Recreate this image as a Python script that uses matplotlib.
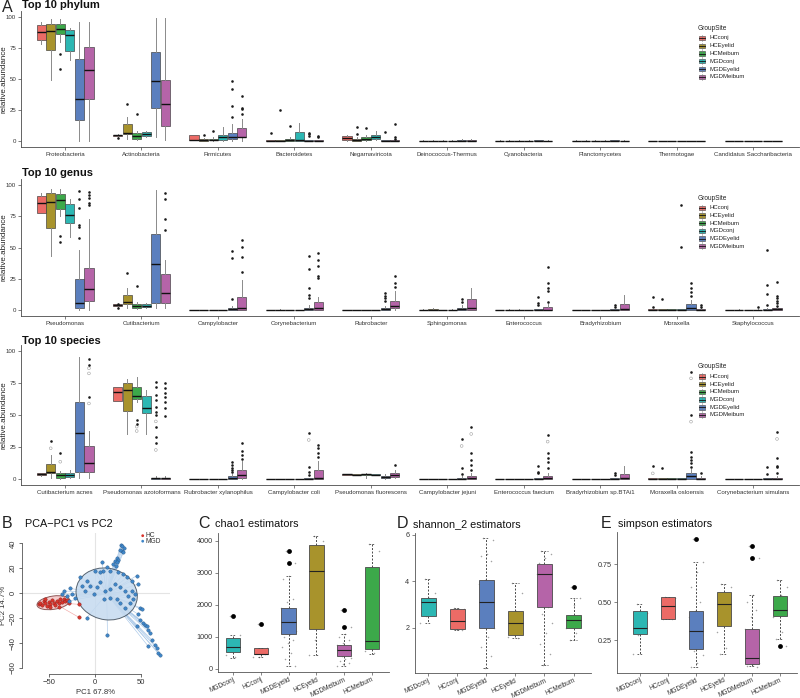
import numpy as np
import matplotlib
matplotlib.use('Agg')
import matplotlib.pyplot as plt
from matplotlib.patches import Ellipse, Rectangle

plt.rcParams['font.family'] = ['Liberation Sans', 'DejaVu Sans']

# ---------------- data ----------------
GROUPS = ['HCconj', 'HCEyelid', 'HCMeibum', 'MGDconj', 'MGDEyelid', 'MGDMeibum']
COLORS = ['#EC6B66', '#A8932C', '#3CA94A', '#2CB7B3', '#5B7FBE', '#B564A8']

PHYLUM = ['Proteobacteria', 'Actinobacteria', 'Firmicutes', 'Bacteroidetes', 'Negarnaviricota',
          'Deinococcus-Thermus', 'Cyanobacteria', 'Planctomycetes', 'Thermotogae',
          'Candidatus Saccharibacteria']
PHY_Q1 = [[81.5, 73.4, 86.0, 72.8, 17.0, 33.6], [4.0, 5.4, 1.3, 4.0, 26.3, 12.0],
          [0.8, 0.0, 0.5, 0.8, 1.9, 3.0], [0, 0, 0, 0, 0, 0], [0.5, 0, 0.5, 1.5, 0, 0],
          [0, 0, 0, 0, 0, 0], [0, 0, 0, 0, 0, 0], [0, 0, 0, 0, 0, 0], [0, 0, 0, 0, 0, 0],
          [0, 0, 0, 0, 0, 0]]
PHY_MED = [[87.6, 88.7, 90.3, 85.5, 33.6, 57.0], [4.5, 6.7, 4.0, 5.4, 48.4, 29.6],
           [0.8, 0.5, 1.0, 3.5, 3.5, 3.5], [0.2, 0.2, 0.5, 0.5, 0.2, 0.2], [2.5, 0.5, 1.5, 3.5, 0.2, 0.2],
           [0.1, 0.1, 0.1, 0.1, 0.3, 0.3], [0.1, 0.1, 0.1, 0.1, 0.2, 0.1], [0.1, 0.1, 0.1, 0.1, 0.1, 0.1],
           [0, 0, 0, 0, 0, 0], [0, 0, 0, 0, 0, 0]]
PHY_Q3 = [[93.5, 94.4, 94.4, 89.5, 66.0, 75.5], [5.0, 13.4, 6.7, 7.0, 72.0, 49.0],
          [4.8, 1.5, 2.0, 4.5, 6.2, 10.2], [0.5, 0.5, 2.0, 7.0, 0.6, 0.6], [4.0, 1.5, 3.0, 5.0, 0.5, 0.5],
          [0.3, 0.3, 0.3, 0.3, 0.8, 0.9], [0.3, 0.3, 0.3, 0.3, 0.6, 0.3], [0.3, 0.3, 0.3, 0.3, 0.5, 0.3],
          [0.2, 0.2, 0.2, 0.2, 0.2, 0.2], [0.2, 0.2, 0.2, 0.2, 0.2, 0.2]]
PHY_LO = [[78.0, 49.0, 80.0, 65.3, 0.0, 0.0], [3.5, 2.0, 0.5, 3.0, 3.0, 1.0],
          [0.5, 0, 0, 0, 0, 0], [0, 0, 0, 0, 0, 0], [0, 0, 0, 0.5, 0, 0],
          [0, 0, 0, 0, 0, 0], [0, 0, 0, 0, 0, 0], [0, 0, 0, 0, 0, 0], [0, 0, 0, 0, 0, 0],
          [0, 0, 0, 0, 0, 0]]
PHY_HI = [[96.0, 98.4, 98.4, 91.4, 96.0, 96.0], [5.5, 19.0, 8.3, 8.0, 99.0, 99.0],
          [4.8, 2.5, 3.0, 11.6, 14.0, 18.0], [1.0, 1.0, 3.5, 14.8, 1.2, 1.2], [5.0, 3.0, 5.0, 8.0, 1.0, 1.0],
          [0.5, 0.5, 0.5, 0.6, 1.8, 1.8], [0.5, 0.5, 0.5, 0.5, 1.2, 0.5], [0.5, 0.5, 0.5, 0.5, 1.0, 0.5],
          [0.4, 0.4, 0.4, 0.4, 0.4, 0.4], [0.4, 0.4, 0.4, 0.4, 0.4, 0.4]]
# outliers: (category index, group index, value)
PHY_OUT = [(0, 2, 70), (0, 2, 58), (1, 0, 2.5), (1, 1, 30), (1, 2, 22),
           (2, 1, 4.8), (2, 2, 8), (2, 4, 48.4), (2, 4, 42), (2, 4, 28), (2, 4, 19.6),
           (2, 5, 36), (2, 5, 27), (2, 5, 26), (2, 5, 22),
           (3, 0, 6.7), (3, 1, 25), (3, 2, 12), (3, 4, 6.7), (3, 4, 5.4), (3, 4, 4.3), (3, 5, 4), (3, 5, 3),
           (4, 1, 11.6), (4, 1, 5.6), (4, 2, 10.8), (4, 4, 7.5), (4, 5, 14), (4, 5, 3.5), (4, 5, 2)]
PHY_OUT_GREY = []

GENUS = ['Pseudomonas', 'Cutibacterium', 'Campylobacter', 'Corynebacterium', 'Rubrobacter',
         'Sphingomonas', 'Enterococcus', 'Bradyrhizobium', 'Moraxella', 'Staphylococcus']
GEN_Q1 = [[77.3, 66.0, 80.5, 70.0, 1.9, 7.5], [3.0, 4.5, 1.3, 2.7, 5.3, 5.9],
          [0, 0, 0, 0, 0, 0], [0, 0, 0, 0, 0, 0], [0, 0, 0, 0, 0, 1.3],
          [0, 0, 0, 0, 0, 0], [0, 0, 0, 0, 0, 0], [0, 0, 0, 0, 0, 0], [0, 0, 0, 0, 0, 0],
          [0, 0, 0, 0, 0, 0]]
GEN_MED = [[85.9, 86.4, 88.0, 76.0, 5.3, 16.5], [3.8, 6.4, 3.2, 3.5, 36.5, 13.3],
           [0, 0, 0, 0, 0.5, 1.3], [0, 0, 0, 0, 0.5, 1.3], [0, 0, 0, 0, 0.5, 3.2],
           [0, 0, 0, 0, 0.5, 1.3], [0, 0, 0, 0, 0, 0.3], [0, 0, 0, 0, 0.2, 0.5],
           [0.2, 0.2, 0.2, 0.2, 1.9, 0.3], [0, 0, 0, 0, 0.3, 0.5]]
GEN_Q3 = [[91.2, 93.3, 92.8, 84.8, 25.0, 33.3], [4.5, 12.0, 4.5, 4.5, 60.8, 28.5],
          [0.2, 0.2, 0.2, 0.2, 1.5, 10.7], [0.2, 0.3, 0.2, 0.2, 1.5, 6.7], [0.2, 0.2, 0.2, 0.2, 1.5, 7.5],
          [0.3, 0.5, 0.2, 0.3, 2.0, 8.5], [0.2, 0.3, 0.3, 0.2, 0.5, 2.7], [0.2, 0.2, 0.2, 0.2, 0.5, 4.5],
          [0.5, 0.5, 0.5, 0.5, 4.5, 1.0], [0.2, 0.3, 0.2, 0.3, 1.0, 1.5]]
GEN_LO = [[77.3, 43.2, 75.5, 58.7, 0, 0], [2.0, 1.3, 0.5, 2.0, 1.3, 2.0],
          [0, 0, 0, 0, 0, 0], [0, 0, 0, 0, 0, 0], [0, 0, 0, 0, 0, 0],
          [0, 0, 0, 0, 0, 0], [0, 0, 0, 0, 0, 0], [0, 0, 0, 0, 0, 0], [0, 0, 0, 0, 0, 0],
          [0, 0, 0, 0, 0, 0]]
GEN_HI = [[94.0, 97.0, 97.0, 89.0, 48.0, 72.5], [5.0, 18.0, 6.7, 5.5, 96.0, 40.0],
          [0.3, 0.3, 0.3, 0.3, 3.0, 24.0], [0.3, 1.0, 0.3, 0.3, 4.0, 10.7], [0.3, 0.3, 0.3, 0.3, 3.5, 15.0],
          [0.5, 1.5, 0.3, 0.5, 4.0, 17.3], [0.3, 0.5, 0.5, 0.3, 1.0, 5.0], [0.3, 0.3, 0.3, 0.3, 1.0, 12.0],
          [1.0, 1.0, 1.0, 1.0, 8.0, 2.0], [0.3, 0.5, 0.3, 0.5, 2.0, 2.5]]
GEN_OUT = [(0, 2, 59.5), (0, 2, 54.7), (0, 4, 95.5), (0, 4, 88.5), (0, 4, 81.3), (0, 4, 68), (0, 4, 66.7),
           (0, 4, 57.9), (0, 5, 94.4), (0, 5, 92), (0, 5, 90), (0, 5, 85.3), (0, 5, 84),
           (1, 0, 2), (1, 0, 4.8), (1, 1, 29.3), (1, 2, 19.5), (1, 5, 93.3), (1, 5, 88.8), (1, 5, 72.5), (1, 5, 64),
           (2, 4, 47.2), (2, 4, 41.9), (2, 4, 8.5), (2, 5, 56), (2, 5, 50.7), (2, 5, 42.7), (2, 5, 30.7),
           (3, 4, 43.2), (3, 4, 32.5), (3, 4, 18), (3, 4, 12), (3, 4, 9.3),
           (3, 5, 45.9), (3, 5, 40), (3, 5, 35.2), (3, 5, 27.2), (3, 5, 25.3),
           (4, 4, 13.9), (4, 4, 11.2), (4, 4, 9.3), (4, 4, 7.5), (4, 5, 27.2), (4, 5, 21.9), (4, 5, 18.7),
           (5, 4, 8.5), (5, 4, 6.7),
           (6, 4, 10.7), (6, 4, 5.9), (6, 4, 4), (6, 5, 34.7), (6, 5, 21.3), (6, 5, 17.3), (6, 5, 15.5), (6, 5, 6.7),
           (7, 4, 4), (7, 4, 2.7),
           (8, 0, 10.7), (8, 0, 2.7), (8, 1, 8.5), (8, 3, 84), (8, 3, 50.7), (8, 4, 21.3), (8, 4, 18),
           (8, 4, 14.7), (8, 4, 11.2), (8, 5, 4), (8, 5, 2.7),
           (9, 3, 2.7), (9, 4, 48), (9, 4, 20), (9, 4, 12.8), (9, 4, 4), (9, 5, 22.7), (9, 5, 11.2),
           (9, 5, 9.3), (9, 5, 7.5), (9, 5, 5.3), (9, 5, 3.2)]
GEN_OUT_GREY = []

SPECIES = ['Cutibacterium acnes', 'Pseudomonas azotoformans', 'Rubrobacter xylanophilus',
           'Campylobacter coli', 'Pseudomonas fluorescens', 'Campylobacter jejuni',
           'Enterococcus faecium', 'Bradyrhizobium sp.BTAi1', 'Moraxella osloensis',
           'Corynebacterium simulans']
SPE_Q1 = [[3.0, 4.4, 1.0, 1.8, 5.2, 5.2], [61.2, 53.1, 62.2, 51.3, 0, 0],
          [0, 0, 0, 0, 0, 1.0], [0, 0, 0, 0, 0, 0], [3.5, 3.2, 3.3, 3.2, 0.5, 1.5],
          [0, 0, 0, 0, 0, 0], [0, 0, 0, 0, 0, 0], [0, 0, 0, 0, 0, 0], [0, 0, 0, 0, 0, 0],
          [0, 0, 0, 0, 0, 0]]
SPE_MED = [[3.8, 5.2, 3.1, 3.1, 36.2, 12.8], [68.2, 69.5, 65.1, 55.2, 0.5, 0.5],
           [0, 0, 0, 0, 0.5, 3.1], [0, 0, 0, 0, 0, 0.7], [3.8, 3.5, 3.8, 3.5, 1.2, 2.8],
           [0, 0, 0, 0, 0.2, 0.5], [0, 0, 0, 0, 0.1, 0.5], [0, 0, 0, 0, 0.2, 0.5],
           [0.2, 0.2, 0.2, 0.2, 2.0, 0.3], [0, 0, 0, 0, 0.1, 0.3]]
SPE_Q3 = [[4.5, 11.7, 4.4, 4.4, 60.2, 25.8], [72.1, 74.7, 72.1, 64.8, 1.0, 1.0],
          [0.2, 0.2, 0.2, 0.2, 2.3, 7.0], [0.2, 0.2, 0.2, 0.2, 0.5, 7.0], [4.0, 3.8, 4.2, 3.8, 2.5, 4.5],
          [0.2, 0.2, 0.2, 0.2, 1.0, 2.3], [0.2, 0.2, 0.2, 0.2, 0.5, 2.3], [0.2, 0.2, 0.2, 0.2, 0.5, 3.6],
          [0.5, 0.5, 0.5, 0.5, 4.9, 1.0], [0.2, 0.2, 0.2, 0.2, 0.5, 1.0]]
SPE_LO = [[2.5, 0.5, 0.3, 1.0, 0.5, 0.5], [61.2, 34.9, 60.0, 34.9, 0, 0],
          [0, 0, 0, 0, 0, 0], [0, 0, 0, 0, 0, 0], [3.3, 3.0, 0.5, 3.0, 0, 0.5],
          [0, 0, 0, 0, 0, 0], [0, 0, 0, 0, 0, 0], [0, 0, 0, 0, 0, 0], [0, 0, 0, 0, 0, 0],
          [0, 0, 0, 0, 0, 0]]
SPE_HI = [[5.0, 18.8, 6.0, 7.0, 95.6, 37.8], [72.1, 77.9, 80.0, 69.5, 2.0, 2.0],
          [0.3, 0.3, 0.3, 0.3, 4.0, 14.0], [0.3, 0.3, 0.3, 0.3, 1.0, 14.0], [4.2, 4.0, 5.0, 4.0, 4.0, 7.0],
          [0.3, 0.3, 0.3, 0.3, 2.0, 5.0], [0.3, 0.3, 0.3, 0.3, 1.0, 5.0], [0.3, 0.3, 0.3, 0.3, 1.0, 10.2],
          [1.0, 1.0, 1.0, 1.0, 8.0, 2.0], [0.3, 0.3, 0.3, 0.3, 1.0, 2.0]]
SPE_OUT = [(0, 1, 29.7), (0, 2, 20), (0, 5, 93.8), (0, 5, 89), (0, 5, 64.3),
           (1, 2, 46.1), (1, 2, 42.7), (1, 4, 76), (1, 4, 72), (1, 4, 65.6), (1, 4, 61.7), (1, 4, 56.5),
           (1, 4, 52.6), (1, 4, 50), (1, 4, 40.9), (1, 4, 33), (1, 4, 27.9),
           (1, 5, 74.7), (1, 5, 70.8), (1, 5, 67), (1, 5, 64.3), (1, 5, 60.4), (1, 5, 55.2), (1, 5, 49.2),
           (2, 4, 13.5), (2, 4, 10.9), (2, 4, 8.3), (2, 4, 7), (2, 4, 5.7),
           (2, 5, 27.9), (2, 5, 21.9), (2, 5, 18.8), (2, 5, 16),
           (3, 4, 35.7), (3, 4, 9.6), (3, 4, 5.7), (3, 4, 3.1), (3, 5, 26.6), (3, 5, 24), (3, 5, 20), (3, 5, 17.4),
           (4, 5, 10.9),
           (5, 4, 31), (5, 4, 8.3), (5, 4, 3.9), (5, 5, 40.4), (5, 5, 20.6), (5, 5, 14.8), (5, 5, 10.9), (5, 5, 7),
           (6, 4, 10.2), (6, 4, 5.7), (6, 4, 4.4), (6, 5, 34.4), (6, 5, 20.6), (6, 5, 16.1), (6, 5, 13.5),
           (6, 5, 8.3),
           (7, 4, 4.4), (7, 4, 3.1),
           (8, 0, 10.2), (8, 1, 8.3), (8, 4, 83.9), (8, 4, 50), (8, 4, 21.4), (8, 4, 17.4), (8, 4, 14.8),
           (8, 4, 12.2), (8, 4, 9.6), (8, 5, 4.4),
           (9, 4, 9.6), (9, 4, 3.9), (9, 5, 37), (9, 5, 16.1), (9, 5, 10.2), (9, 5, 9), (9, 5, 4.4)]
SPE_OUT_GREY = [(0, 1, 24), (0, 2, 13.5), (0, 5, 86.5), (0, 5, 82.5), (0, 5, 59),
                (1, 2, 40.9), (1, 2, 37.5), (1, 4, 45), (1, 4, 22.7), (3, 4, 30.5),
                (5, 4, 25.8), (5, 5, 35.2), (6, 5, 29.2), (8, 0, 4.4), (8, 4, 78.6), (8, 4, 44.8),
                (9, 5, 31.3)]

# PCA scores
HC_PC1 = [-61.6, -59.8, -58.0, -56.2, -54.3, -52.5, -50.7, -48.9, -47.1, -45.3, -43.5, -41.7,
          -39.9, -38.0, -36.2, -34.4, -32.6, -30.8, -48.9, -54.3, -29.0, -39.9, -17.4, -18.1]
HC_PC2 = [-8.9, -7.6, -9.7, -6.2, -8.1, -10.3, -7.0, -8.9, -5.7, -7.6, -9.7, -6.2,
          -8.1, -4.9, -7.0, -4.3, -6.2, -5.4, -10.8, -4.9, -7.6, -10.8, -8.9, -19.2]
MGD_PC1 = [28.0, 29.7, 31.5, 29.0, 30.8, 27.2, 23.5, 25.4, 21.7, 24.3, 19.9, 22.8, 7.2, 12.7, 9.0,
           0.0, 5.4, 16.3, 25.4, 30.8, 34.4, 39.9, 45.3, 47.1,
           -16.3, -9.1, -5.4, 1.8, 5.4, 10.9, 16.3, 21.7, 27.2, 32.6, 36.2, 23.6, 16.3, 9.1, -1.8,
           -10.9, -14.5, 38.0, 32.6, 27.2, 41.7, 39.9, 43.5,
           -34.4, -36.2, -30.8, -27.2, -25.4, -21.7, -29.0, -9.1, 13.4,
           48.9, 50.7, 47.1, 48.9, 52.5, 54.3, 45.3, 56.2, 58.0, 59.8, 61.6, 58.0, 65.2, 67.0, 68.8, 70.7]
MGD_PC2 = [39.0, 38.0, 36.0, 34.0, 33.0, 35.0, 28.0, 27.0, 26.2, 24.9, 23.5, 22.2, 24.9, 20.8, 18.1,
           18.1, 16.8, 18.1, 16.8, 15.4, 12.7, 10.0, 14.1, 7.3,
           12.7, 10.0, 5.9, 4.6, 8.6, 1.9, 3.2, 7.3, 4.6, 1.9, -2.2, -4.9, -3.5, -4.9, -0.8,
           1.9, 5.9, -7.6, -11.6, -7.6, -4.9, 1.9, -0.8,
           1.9, -0.8, -2.2, 3.8, -0.8, -3.5, -6.2, -19.7, -33.8,
           -11.6, -13.0, -17.0, -21.1, -23.8, -25.1, -26.5, -26.5, -29.2, -31.9, -37.3, -42.7, -41.4,
           -44.1, -48.1, -49.5]
# ellipses: centre x, centre y, width, height, angle
HC_ELLIPSE = (-45.6, -7.6, 36.0, 10.7, 6)
MGD_ELLIPSE = (12.5, -0.6, 67.0, 41.5, -5)

# alpha diversity (order of boxes)
ALPHA_GROUPS = ['MGDconj', 'HCconj', 'MGDEyelid', 'HCEyelid', 'MGDMeibum', 'HCMeibum']
ALPHA_COLORS = ['#2CB7B3', '#EC6B66', '#5B7FBE', '#A8932C', '#B564A8', '#3CA94A']

CHAO_Q1 = [520, 460, 1100, 1250, 420, 620]
CHAO_MED = [690, 470, 1480, 3050, 580, 880]
CHAO_Q3 = [960, 650, 1900, 3870, 760, 3180]
CHAO_LO = [350, 380, 100, 450, 100, 480]
CHAO_HI = [1050, 650, 2900, 4150, 1100, 3900]
CHAO_OUT = [[1650], [1400], [3700, 3300], [], [1850, 1300], []]
CHAO_PTS = [[1650, 1050, 950, 800, 700, 600, 450, 380],
            [1400, 650, 600, 500, 470, 380, 380],
            [3700, 3300, 2900, 2800, 2200, 2100, 1900, 1800, 1700, 1600, 1500, 1450, 1400, 1300,
             1200, 1100, 1000, 900, 800, 700, 500, 300, 100],
            [4150, 4000, 3700, 2400, 1300, 900, 450],
            [1850, 1300, 1100, 1000, 900, 800, 750, 700, 650, 600, 550, 500, 450, 400, 350, 300,
             250, 200, 150, 100],
            [3900, 3700, 2800, 1050, 880, 700, 550, 500]]

SHAN_Q1 = [2.5, 1.95, 2.0, 1.7, 2.9, 2.0]
SHAN_MED = [3.1, 2.3, 3.1, 2.2, 4.3, 2.35]
SHAN_Q3 = [3.3, 2.8, 4.05, 2.75, 4.75, 2.55]
SHAN_LO = [2.2, 1.9, 0.3, 1.55, 0.4, 1.5]
SHAN_HI = [4.1, 2.85, 5.85, 3.95, 5.3, 3.3]
SHAN_OUT = [[], [], [], [], [], [3.75]]
SHAN_PTS = [[4.1, 3.5, 3.3, 3.1, 2.8, 2.5, 2.2],
            [2.85, 2.8, 2.3, 2.0, 1.9],
            [5.85, 5.8, 5.2, 5.1, 4.9, 4.05, 3.9, 3.6, 3.3, 3.1, 2.9, 2.6, 2.5, 2.3, 2.0, 1.6, 1.2, 0.8, 0.3],
            [3.95, 3.5, 2.75, 2.5, 2.2, 1.9, 1.6, 1.55],
            [5.3, 5.2, 5.0, 4.8, 4.6, 4.4, 4.3, 4.2, 4.0, 3.8, 3.5, 3.2, 2.9, 2.6, 2.2, 1.8, 1.3, 0.9, 0.4],
            [3.75, 3.3, 3.0, 2.5, 2.4, 2.2, 2.0, 1.8, 1.5]]

SIMP_Q1 = [0.29, 0.39, 0.19, 0.345, 0.09, 0.41]
SIMP_MED = [0.33, 0.475, 0.31, 0.49, 0.13, 0.45]
SIMP_Q3 = [0.44, 0.535, 0.445, 0.565, 0.32, 0.54]
SIMP_LO = [0.16, 0.39, 0.07, 0.16, 0.08, 0.26]
SIMP_HI = [0.49, 0.535, 0.765, 0.62, 0.55, 0.645]
SIMP_OUT = [[], [], [0.915], [], [0.87, 0.79], [0.21]]
SIMP_PTS = [[0.49, 0.43, 0.38, 0.33, 0.30, 0.28, 0.16],
            [0.535, 0.53, 0.47, 0.39, 0.39],
            [0.915, 0.765, 0.70, 0.6, 0.5, 0.44, 0.4, 0.35, 0.31, 0.28, 0.25, 0.22, 0.2, 0.18, 0.15, 0.1, 0.07],
            [0.62, 0.6, 0.56, 0.5, 0.44, 0.35, 0.3, 0.2, 0.16],
            [0.87, 0.79, 0.55, 0.5, 0.45, 0.4, 0.32, 0.28, 0.25, 0.2, 0.18, 0.15, 0.13, 0.12, 0.1, 0.09,
             0.08, 0.07],
            [0.645, 0.6, 0.55, 0.5, 0.45, 0.44, 0.4, 0.3, 0.26, 0.21]]

# ---------------- layout helpers ----------------
W, H = 800, 698
fig = plt.figure(figsize=(W / 100, H / 100), dpi=100)


def add_ax(x0, y0, x1, y1, **kw):
    return fig.add_axes([x0 / W, 1 - y1 / H, (x1 - x0) / W, (y1 - y0) / H], **kw)


ov = add_ax(0, 0, W, H, zorder=10)
ov.set_xlim(0, W)
ov.set_ylim(H, 0)
ov.axis('off')
ov.patch.set_alpha(0)

TXT = '#333333'


def top_panel(y_top, y_bot, cats, q1, med, q3, lo, hi, outs, outs_grey):
    ax = add_ax(21, y_top, 799, y_bot)
    ax.set_xlim(0.424, 10.6)
    ax.set_ylim(-5, 105)
    bw = 0.75 / 6
    for g in range(6):
        stats = [dict(med=med[c][g], q1=q1[c][g], q3=q3[c][g], whislo=lo[c][g], whishi=hi[c][g],
                      fliers=[]) for c in range(len(cats))]
        pos = [c + 1 + (g - 2.5) * bw for c in range(len(cats))]
        ax.bxp(stats, positions=pos, widths=bw * 0.96, patch_artist=True, showcaps=False,
               showfliers=False, manage_ticks=False,
               boxprops=dict(facecolor=COLORS[g], edgecolor='#3a3a3a', linewidth=0.45),
               whiskerprops=dict(color='#8a8a8a', linewidth=0.7),
               medianprops=dict(color='#111111', linewidth=1.0))
    if outs_grey:
        ax.scatter([c + 1 + (g - 2.5) * bw for c, g, v in outs_grey], [v for c, g, v in outs_grey],
                   s=4, facecolors='none', edgecolors='#a0a0a0', linewidths=0.4, zorder=3)
    ax.scatter([c + 1 + (g - 2.5) * bw for c, g, v in outs], [v for c, g, v in outs],
               s=3.5, c='#1a1a1a', linewidths=0, zorder=4)
    for s in ['top', 'right']:
        ax.spines[s].set_visible(False)
    for s in ['left', 'bottom']:
        ax.spines[s].set_color('#4a4a4a')
        ax.spines[s].set_linewidth(0.6)
    ax.set_xticks(range(1, len(cats) + 1))
    ax.set_xticklabels(cats)
    ax.set_yticks([0, 25, 50, 75, 100])
    ax.tick_params(axis='both', labelsize=4.4, colors='#4a4a4a', length=2, width=0.5, pad=1.5)
    for t in ax.get_xticklabels() + ax.get_yticklabels():
        t.set_color(TXT)
    ax.patch.set_alpha(0)
    return ax


def legend(x, y_title, y0, dy):
    ov.text(x, y_title, 'GroupSite', fontsize=4.7, va='center', ha='left', color='#222222')
    for i, (g, c) in enumerate(zip(GROUPS, COLORS)):
        yc = y0 + i * dy
        ov.plot([x + 4.2, x + 4.2], [yc - 3.2, yc + 3.2], color='#777777', lw=0.4)
        ov.add_patch(Rectangle((x + 1.2, yc - 2.2), 6.0, 4.4, facecolor=c, edgecolor='#444444', lw=0.4))
        ov.plot([x + 1.2, x + 7.2], [yc, yc], color='#111111', lw=0.6)
        ov.text(x + 12, yc, g, fontsize=4.3, va='center', ha='left', color='#222222')


# ---------------- panel A ----------------
top_panel(10.8, 147.2, PHYLUM, PHY_Q1, PHY_MED, PHY_Q3, PHY_LO, PHY_HI, PHY_OUT, PHY_OUT_GREY)
top_panel(178.75, 316.25, GENUS, GEN_Q1, GEN_MED, GEN_Q3, GEN_LO, GEN_HI, GEN_OUT, GEN_OUT_GREY)
top_panel(344.6, 485.4, SPECIES, SPE_Q1, SPE_MED, SPE_Q3, SPE_LO, SPE_HI, SPE_OUT, SPE_OUT_GREY)

ov.text(2, 7, 'A', fontsize=11.5, va='center', ha='left', color='#222222')
for ty, title in [(5.5, 'Top 10 phylum'), (173, 'Top 10 genus'), (341, 'Top 10 species')]:
    ov.text(22, ty, title, fontsize=8, fontweight='bold', va='center', ha='left', color='#111111')
for cy in [79, 247, 415]:
    ov.text(4.5, cy, 'relative.abundance', fontsize=5.8, rotation=90, va='center', ha='center', color='#222222')

legend(698, 28, 38, 7.75)
legend(698, 198.3, 207.7, 7.7)
legend(697.5, 366.7, 376.5, 7.7)

# ---------------- panel B (PCA) ----------------
axp = add_ax(21.7, 533, 170, 674)
axp.set_xlim(-80.2, 81.6)
axp.set_ylim(-64.8, 48.3)
axp.axhline(0, color='#e4e4e4', lw=0.8, zorder=0)
axp.axvline(0, color='#e4e4e4', lw=0.8, zorder=0)
for (cx, cy, w, h, a), xs, ys, lc, fc, ec in [
        (HC_ELLIPSE, HC_PC1, HC_PC2, '#f2a7a5', '#f4c4c4', '#7a3c3c'),
        (MGD_ELLIPSE, MGD_PC1, MGD_PC2, '#a9c8e8', '#c5daef', '#3d4a57')]:
    for x, y in zip(xs, ys):
        axp.plot([cx, x], [cy, y], color=lc, lw=0.45, zorder=1)
    axp.add_patch(Ellipse((cx, cy), w, h, angle=a, facecolor=fc, edgecolor=ec, lw=0.7,
                          alpha=0.85, zorder=2))
axp.scatter(HC_PC1, HC_PC2, s=6, c='#d9342c', edgecolors='#8a1f1a', linewidths=0.3, zorder=3)
axp.scatter(MGD_PC1, MGD_PC2, s=6, c='#3f86c8', edgecolors='#2a5a8a', linewidths=0.3, zorder=3)
for s in ['top', 'right']:
    axp.spines[s].set_visible(False)
axp.spines['left'].set_bounds(-60, 40)
axp.spines['bottom'].set_bounds(-50, 50)
for s in ['left', 'bottom']:
    axp.spines[s].set_linewidth(0.5)
    axp.spines[s].set_color('#333333')
axp.set_xticks([-50, 0, 50])
axp.set_yticks([-60, -40, -20, 0, 20, 40])
axp.tick_params(axis='both', labelsize=5.5, colors='#333333', length=2.5, width=0.5, pad=1)
for t in axp.get_yticklabels():
    t.set_rotation(90)
    t.set_va('center')
axp.patch.set_alpha(0)
ov.text(95, 692, 'PC1 67.8%', fontsize=5.6, ha='center', va='center', color='#333333')
ov.text(4, 605, 'PC2 14.7%', fontsize=5.6, ha='center', va='center', rotation=90, color='#333333')
ov.scatter([142.7, 142.7], [535.7, 541.2], s=4, c=['#d9342c', '#3f86c8'], linewidths=0)
ov.text(146, 535.7, 'HC', fontsize=4.8, va='center', ha='left', color='#333333')
ov.text(146, 541.2, 'MGD', fontsize=4.8, va='center', ha='left', color='#333333')
ov.text(2, 524, 'B', fontsize=11.5, va='center', ha='left', color='#222222')
ov.text(25, 524, 'PCA\u2212PC1 vs PC2', fontsize=7.8, va='center', ha='left', color='#111111')


# ---------------- panels C, D, E ----------------
def alpha_panel(rect, xlim, ylim, yticks, yticklabels, q1, med, q3, lo, hi, outs, pts):
    ax = add_ax(*rect)
    ax.set_xlim(*xlim)
    ax.set_ylim(*ylim)
    for i in range(6):
        n = len(pts[i])
        offs = ((np.arange(n) * 0.618 + 0.31) % 1.0 - 0.5) * 0.55
        ax.scatter(i + 1 + offs, pts[i], s=1.2, c='#8c8c8c', linewidths=0, alpha=0.8, zorder=1)
        ax.bxp([dict(med=med[i], q1=q1[i], q3=q3[i], whislo=lo[i], whishi=hi[i], fliers=[])],
               positions=[i + 1], widths=0.52, patch_artist=True, showcaps=True, showfliers=False,
               manage_ticks=False, capwidths=0.22,
               boxprops=dict(facecolor=ALPHA_COLORS[i], edgecolor='#4a4a4a', linewidth=0.6),
               whiskerprops=dict(color='#4a4a4a', linewidth=0.7, linestyle=(0, (2.0, 1.6))),
               capprops=dict(color='#4a4a4a', linewidth=0.6, linestyle=(0, (2.0, 1.6))),
               medianprops=dict(color='#222222', linewidth=0.8))
        if outs[i]:
            ax.scatter([i + 1] * len(outs[i]), outs[i], s=12, c='black', linewidths=0, zorder=4)
        for b in ax.patches:
            b.set_zorder(2)
    for s in ['top', 'right']:
        ax.spines[s].set_visible(False)
    for s in ['left', 'bottom']:
        ax.spines[s].set_color('#555555')
        ax.spines[s].set_linewidth(0.6)
    ax.set_xticks(range(1, 7))
    ax.set_xticklabels(ALPHA_GROUPS, rotation=25, ha='right', rotation_mode='anchor')
    ax.set_yticks(yticks)
    ax.set_yticklabels(yticklabels)
    ax.tick_params(axis='y', labelsize=5.2, colors='#555555', length=2.5, width=0.5, pad=1.5)
    ax.tick_params(axis='x', labelsize=4.7, colors='#555555', length=2.0, width=0.5, pad=0.8)
    for t in ax.get_xticklabels() + ax.get_yticklabels():
        t.set_color(TXT)
    ax.patch.set_alpha(0)
    return ax


alpha_panel((218.3, 533.3, 388.7, 672), (0.47, 6.6), (-94, 4240), [0, 1000, 2000, 3000, 4000],
            ['0', '1000', '2000', '3000', '4000'],
            CHAO_Q1, CHAO_MED, CHAO_Q3, CHAO_LO, CHAO_HI, CHAO_OUT, CHAO_PTS)
alpha_panel((415, 533.3, 591, 673), (0.55, 6.6), (0.065, 6.07), [2, 4, 6], ['2', '4', '6'],
            SHAN_Q1, SHAN_MED, SHAN_Q3, SHAN_LO, SHAN_HI, SHAN_OUT, SHAN_PTS)
alpha_panel((617, 531.7, 797, 672.7), (0.18, 6.6), (0.034, 0.966), [0.25, 0.5, 0.75],
            ['0.25', '0.50', '0.75'],
            SIMP_Q1, SIMP_MED, SIMP_Q3, SIMP_LO, SIMP_HI, SIMP_OUT, SIMP_PTS)

for x, letter, tx, title in [(198, 'C', 215, 'chao1 estimators'), (397, 'D', 413, 'shannon_2 estimators'),
                             (601, 'E', 618, 'simpson estimators')]:
    ov.text(x, 524, letter, fontsize=11.5, va='center', ha='left', color='#222222')
    ov.text(tx, 524, title, fontsize=7.8, va='center', ha='left', color='#111111')

fig.savefig('out.png', dpi=100)
